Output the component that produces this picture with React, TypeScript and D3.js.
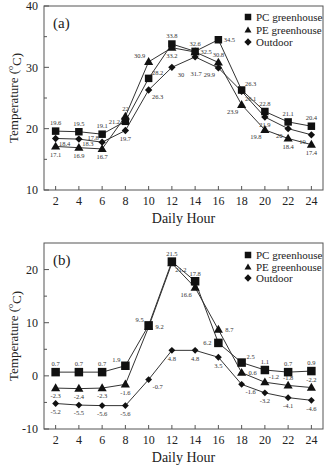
import * as d3 from 'd3'

const HOURS = [2, 4, 6, 8, 10, 12, 14, 16, 18, 20, 22, 24]
const SERIES_NAMES = ['PC greenhouse', 'PE greenhouse', 'Outdoor']

// panel (a) air temperature
const PC_A = [19.6, 19.5, 19.1, 21.2, 28.2, 33.8, 32.6, 34.5, 26.3, 22.8, 21.1, 20.4]
const PE_A = [17.1, 16.9, 16.7, 22, 30.9, 33.2, 32.5, 30.8, 23.9, 19.8, 18.4, 17.4]
const OUT_A = [18.4, 18.3, 17.8, 19.7, 26.3, 30, 31.7, 29.9, 26.1, 21.9, 20, 19]

// panel (b)
const PC_B = [0.7, 0.7, 0.7, 1.9, 9.5, 21.5, 17.8, 6.2, 2.5, 1.1, 0.7, 0.9]
const PE_B = [-2.3, -2.4, -2.3, -1.6, 9.2, 21.2, 16.6, 8.7, 0.6, -1.2, -1.8, -2.2]
const OUT_B = [-5.2, -5.5, -5.6, -5.6, -0.7, 4.8, 4.8, 3.5, -1.6, -3.2, -4.1, -4.6]

const Y_TICKS_A = [10, 20, 30, 40]
const Y_TICKS_B = [-10, 0, 10, 20]

// where each value label sits relative to its marker
const PC_A_POS = ['a', 'a', 'a', 'l', 'ar', 'a', 'a', 'r', 'ar', 'a', 'a', 'a']
const PE_A_POS = ['b', 'b', 'b', 'a', 'al', 'b', 'r', 'a', 'bl', 'bl', 'b', 'b']
const OUT_A_POS = ['rb', 'rb', 'la', 'b', 'br', 'br', 'bb', 'bl', 'br', 'b', 'bl', 'bl']
const PC_B_POS = ['a', 'a', 'a', 'al', 'al', 'a', 'a', 'l', 'ar', 'a', 'a', 'a']
const PE_B_POS = ['b', 'b', 'b', 'b', 'r', 'br', 'bl', 'r', 'r', 'ar', 'a', 'a']
const OUT_B_POS = ['b', 'b', 'b', 'b', 'br', 'b', 'b', 'b', 'br', 'b', 'b', 'b']

const OFFSETS: Record<string, [number, number]> = {
  a: [0, -8],
  b: [0, 8],
  bb: [1, 17],
  l: [-11, 0],
  r: [11, 0],
  rb: [9, 5],
  la: [-9, -4],
  al: [-9, -6],
  ar: [9, -6],
  bl: [-9, 7],
  br: [9, 7],
}

const FONT = '"Liberation Serif", "Times New Roman", serif'
const INK = '#222'

function Marker({ kind, x, y, s }: { kind: number; x: number; y: number; s: number }) {
  if (kind === 0) {
    const p = d3.symbol(d3.symbolSquare, s * s)()
    return <path d={p!} transform={`translate(${x},${y})`} fill="#111" />
  }
  if (kind === 1) {
    const p = d3.symbol(d3.symbolTriangle, s * s * 0.5)()
    return <path d={p!} transform={`translate(${x},${y + 0.5})`} fill="#111" />
  }
  const p = d3.symbol(d3.symbolSquare, s * s * 0.55)()
  return <path d={p!} transform={`translate(${x},${y}) rotate(45)`} fill="#111" />
}

interface PanelProps {
  tag: string
  top: number
  bottom: number
  yDomain: [number, number]
  yTicks: number[]
  series: number[][]
  positions: string[][]
  legendY: number[]
  markerSize: number[]
}

function Panel({ tag, top, bottom, yDomain, yTicks, series, positions, legendY, markerSize }: PanelProps) {
  const left = 44
  const right = 323
  const x = d3.scaleLinear().domain([1, 25]).range([left, right])
  const y = d3.scaleLinear().domain(yDomain).range([bottom, top])
  const minor = yTicks.slice(0, -1).map((t, i) => (t + yTicks[i + 1]) / 2)
  if (yTicks[yTicks.length - 1] + 5 < yDomain[1]) minor.push(yTicks[yTicks.length - 1] + 5)

  const line = d3.line<number>()
    .x((_, i) => x(HOURS[i]))
    .y(d => y(d))

  return (
    <g fontFamily={FONT}>
      <rect x={left} y={top} width={right - left} height={bottom - top} fill="none" stroke="#555" strokeWidth={1} />

      {yTicks.map(t => (
        <g key={t}>
          <line x1={left} x2={left + 5} y1={y(t)} y2={y(t)} stroke="#555" />
          <text x={38} y={y(t)} dy="0.35em" textAnchor="end" fontSize={12} fill={INK}>{t}</text>
        </g>
      ))}
      {minor.map(t => (
        <line key={t} x1={left} x2={left + 3} y1={y(t)} y2={y(t)} stroke="#555" />
      ))}
      {HOURS.map(h => (
        <g key={h}>
          <line x1={x(h)} x2={x(h)} y1={bottom} y2={bottom - 4} stroke="#555" />
          <text x={x(h)} y={bottom + 11} dy="0.35em" textAnchor="middle" fontSize={12} fill={INK}>{h}</text>
        </g>
      ))}

      <text x={(left + right) / 2} y={bottom + 28} dy="0.35em" textAnchor="middle" fontSize={14} fill={INK}>Daily Hour</text>
      <text transform={`translate(13,${(top + bottom) / 2}) rotate(-90)`} textAnchor="middle" dy="0.35em" fontSize={13} fill={INK}>
        Temperature (<tspan fontSize={8} dy="-0.6em">o</tspan><tspan dy="0.6em">C)</tspan>
      </text>

      <text x={53} y={top + 17} dy="0.35em" fontSize={15} fill={INK}>{tag}</text>

      {series.map((vals, si) => (
        <path key={`l${si}`} d={line(vals)!} fill="none" stroke="#333" strokeWidth={1} />
      ))}
      {series.map((vals, si) =>
        vals.map((v, i) => (
          <Marker key={`m${si}-${i}`} kind={si} x={x(HOURS[i])} y={y(v)} s={markerSize[si]} />
        ))
      )}
      {series.map((vals, si) =>
        vals.map((v, i) => {
          const [dx, dy] = OFFSETS[positions[si][i]]
          return (
            <text key={`t${si}-${i}`} x={x(HOURS[i]) + dx} y={y(v) + dy} dy="0.35em" textAnchor="middle" fontSize={6.5} fill="#333">
              {v}
            </text>
          )
        })
      )}

      {SERIES_NAMES.map((name, si) => (
        <g key={name}>
          <Marker kind={si} x={248} y={legendY[si]} s={si === 2 ? 7 : 6.5} />
          <text x={256} y={legendY[si]} dy="0.35em" fontSize={11} fill={INK}>{name}</text>
        </g>
      ))}
    </g>
  )
}

export default function App() {
  return (
    <svg width={329} height={468} style={{ position: 'absolute', left: 0, top: 0, background: '#fff' }}>
      <Panel
        tag="(a)"
        top={6}
        bottom={190}
        yDomain={[10, 40]}
        yTicks={Y_TICKS_A}
        series={[PC_A, PE_A, OUT_A]}
        positions={[PC_A_POS, PE_A_POS, OUT_A_POS]}
        legendY={[17, 30, 42]}
        markerSize={[7.5, 8.5, 7]}
      />
      <Panel
        tag="(b)"
        top={243}
        bottom={429}
        yDomain={[-10, 25]}
        yTicks={Y_TICKS_B}
        series={[PC_B, PE_B, OUT_B]}
        positions={[PC_B_POS, PE_B_POS, OUT_B_POS]}
        legendY={[255, 267, 278]}
        markerSize={[8.5, 8.5, 6.5]}
      />
    </svg>
  )
}
